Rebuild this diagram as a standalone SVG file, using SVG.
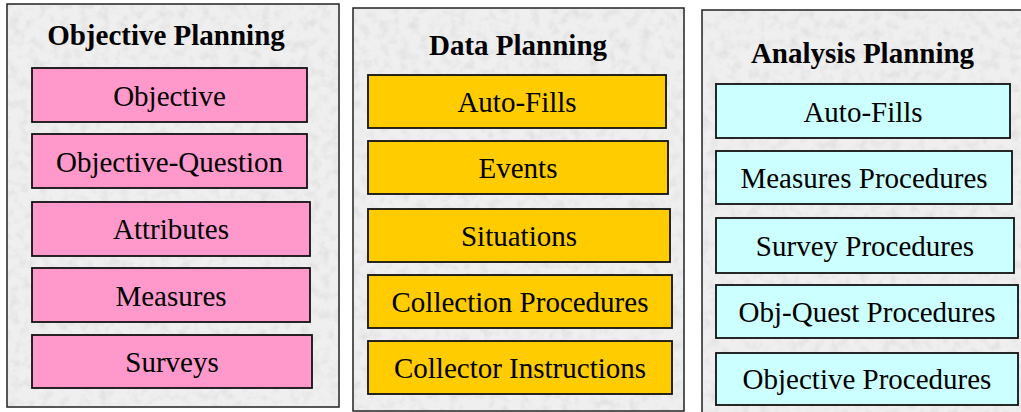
<svg xmlns="http://www.w3.org/2000/svg" width="1021" height="412" viewBox="0 0 1021 412">
<style>
.panel{fill:#efefef;stroke:#222;stroke-width:1.5}
.tex{filter:url(#granite)}
.title{font-family:"Liberation Serif",serif;font-weight:bold;font-size:29px;text-anchor:middle;fill:#000}
.lbl{font-family:"Liberation Serif",serif;font-size:29px;text-anchor:middle;fill:#000}
.box{stroke:#111;stroke-width:1.8}
.pink{fill:#FF99CC}
.gold{fill:#FFCC00}
.cyan{fill:#CCFFFF}
</style>
<defs>
<filter id="granite" x="0" y="0" width="100%" height="100%">
<feTurbulence type="fractalNoise" baseFrequency="0.1" numOctaves="3" seed="4" result="n"/>
<feColorMatrix in="n" type="matrix" values="0 0 0 0 0.72  0 0 0 0 0.72  0 0 0 0 0.72  0 0 0 -1.8 1.0" result="spots"/>
<feComposite in="spots" in2="SourceGraphic" operator="in"/>
</filter>
</defs>
<rect width="1021" height="412" fill="#ffffff"/>

<g id="panel-objective">
<rect class="panel" x="7" y="4" width="332" height="403"/>
<rect class="tex" x="8" y="5" width="330" height="401" fill="#000"/>
<text class="title" x="166" y="45">Objective Planning</text>
</g>
<g id="node-objective"><rect class="box pink" x="32" y="68" width="275" height="54"/><text class="lbl" x="169.5" y="106">Objective</text></g>
<g id="node-objective-question"><rect class="box pink" x="32" y="134" width="275" height="54"/><text class="lbl" x="169.5" y="172">Objective-Question</text></g>
<g id="node-attributes"><rect class="box pink" x="32" y="202" width="278" height="54"/><text class="lbl" x="171" y="239">Attributes</text></g>
<g id="node-measures"><rect class="box pink" x="32" y="268" width="278" height="54"/><text class="lbl" x="171" y="306">Measures</text></g>
<g id="node-surveys"><rect class="box pink" x="32" y="335" width="280" height="53"/><text class="lbl" x="172" y="372">Surveys</text></g>

<g id="panel-data">
<rect class="panel" x="353" y="8" width="331" height="403"/>
<rect class="tex" x="354" y="9" width="329" height="401" fill="#000"/>
<text class="title" x="518" y="55">Data Planning</text>
</g>
<g id="node-data-autofills"><rect class="box gold" x="368" y="75" width="298" height="53"/><text class="lbl" x="517" y="112">Auto-Fills</text></g>
<g id="node-events"><rect class="box gold" x="368" y="141" width="300" height="53"/><text class="lbl" x="518" y="178">Events</text></g>
<g id="node-situations"><rect class="box gold" x="368" y="209" width="302" height="53"/><text class="lbl" x="519" y="246">Situations</text></g>
<g id="node-collection-procedures"><rect class="box gold" x="368" y="275" width="304" height="53"/><text class="lbl" x="520" y="312">Collection Procedures</text></g>
<g id="node-collector-instructions"><rect class="box gold" x="368" y="341" width="304" height="53"/><text class="lbl" x="520" y="378">Collector Instructions</text></g>

<g id="panel-analysis">
<rect class="panel" x="702" y="10" width="330" height="410"/>
<rect class="tex" x="703" y="11" width="328" height="408" fill="#000"/>
<text class="title" x="862.5" y="63">Analysis Planning</text>
</g>
<g id="node-analysis-autofills"><rect class="box cyan" x="716" y="84" width="294" height="54"/><text class="lbl" x="863" y="122">Auto-Fills</text></g>
<g id="node-measures-procedures"><rect class="box cyan" x="716" y="151" width="296" height="53"/><text class="lbl" x="864" y="188">Measures Procedures</text></g>
<g id="node-survey-procedures"><rect class="box cyan" x="716" y="218" width="298" height="55"/><text class="lbl" x="865" y="256">Survey Procedures</text></g>
<g id="node-objquest-procedures"><rect class="box cyan" x="716" y="285" width="302" height="53"/><text class="lbl" x="867" y="322">Obj-Quest Procedures</text></g>
<g id="node-objective-procedures"><rect class="box cyan" x="716" y="353" width="302" height="52"/><text class="lbl" x="867" y="389">Objective Procedures</text></g>

<g id="connectors"></g>
</svg>
